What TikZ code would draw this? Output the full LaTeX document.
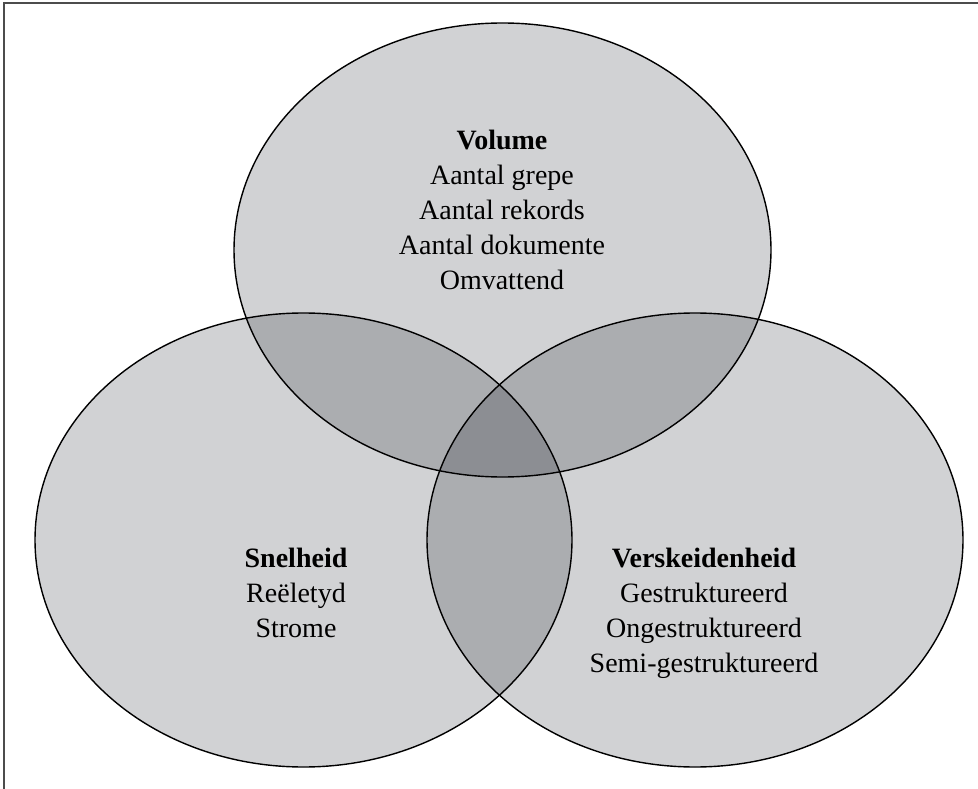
\documentclass[tikz,border=0pt]{standalone}
\usepackage{fontspec}
\setmainfont{Liberation Serif}

\definecolor{setgray}{RGB}{0,5,16}

\begin{document}
\begin{tikzpicture}[x=1pt, y=-1pt,
    venn/.style={fill=setgray, fill opacity=0.18},
    rim/.style={draw=black, line width=1.4pt},
    words/.style={align=center, anchor=north, inner sep=0pt,
      font=\fontsize{28}{35}\selectfont}]

\useasboundingbox (0,0) rectangle (978,789);
\draw [line width=1.4pt, black!70] (4,789) -- (4,3) -- (978,3);

% -------- sets -----------
\fill [venn] (502.5,250) ellipse [x radius=268.5, y radius=227];
\fill [venn] (303.5,540) ellipse [x radius=268.5, y radius=227];
\fill [venn] (695,540)   ellipse [x radius=268,   y radius=227];

\draw [rim] (502.5,250) ellipse [x radius=268.5, y radius=227];
\draw [rim] (303.5,540) ellipse [x radius=268.5, y radius=227];
\draw [rim] (695,540)   ellipse [x radius=268,   y radius=227];

% -------- labels -----------
\node [words] (volume) at (502,130)
  {\textbf{Volume}\\Aantal grepe\\Aantal rekords\\Aantal dokumente\\Omvattend};
\node [words] (snelheid) at (296,548)
  {\textbf{Snelheid}\\Reëletyd\\Strome};
\node [words] (verskeidenheid) at (704,548)
  {\textbf{Verskeidenheid}\\Gestruktureerd\\Ongestruktureerd\\Semi-gestruktureerd};
\end{tikzpicture}
\end{document}
